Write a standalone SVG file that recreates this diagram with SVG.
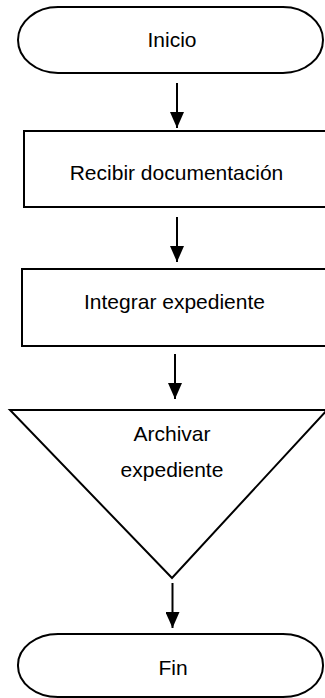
<svg xmlns="http://www.w3.org/2000/svg" width="325" height="698" viewBox="0 0 325 698">
<defs>
<marker id="ah" markerWidth="16" markerHeight="14" refX="16" refY="7" orient="auto" markerUnits="userSpaceOnUse" viewBox="0 0 16 14">
<path d="M0,0 L16,7 L0,14 Z" fill="#000"/>
</marker>
</defs>
<style>
.s{fill:#fff;stroke:#000;stroke-width:2}
.t{font-family:"Liberation Sans",Arial,sans-serif;font-size:21px;fill:#000;text-anchor:middle}
.c{stroke:#000;stroke-width:2;fill:none}
</style>
<rect width="325" height="698" fill="#fff"/>
<g id="inicio">
<rect class="s" x="18" y="7" width="305" height="66" rx="40" ry="33"/>
<text class="t" x="172" y="47">Inicio</text>
</g>
<g id="recibir">
<rect class="s" x="24" y="131" width="303" height="76"/>
<text class="t" x="176.5" y="180">Recibir documentación</text>
</g>
<g id="integrar">
<rect class="s" x="22" y="269" width="305" height="77"/>
<text class="t" x="174.5" y="309">Integrar expediente</text>
</g>
<g id="archivar">
<polygon class="s" points="10,410 327,410 172,578"/>
<text class="t" x="172" y="441">Archivar</text>
<text class="t" x="172" y="477">expediente</text>
</g>
<g id="fin">
<rect class="s" x="18" y="634" width="305" height="63" rx="40" ry="31"/>
<text class="t" x="173" y="675">Fin</text>
</g>
<g id="connectors">
<line class="c" x1="177" y1="83" x2="177" y2="128" marker-end="url(#ah)"/>
<line class="c" x1="177" y1="217" x2="177" y2="262" marker-end="url(#ah)"/>
<line class="c" x1="175" y1="354" x2="175" y2="399" marker-end="url(#ah)"/>
<line class="c" x1="172.5" y1="583" x2="172.5" y2="628" marker-end="url(#ah)"/>
</g>
</svg>
